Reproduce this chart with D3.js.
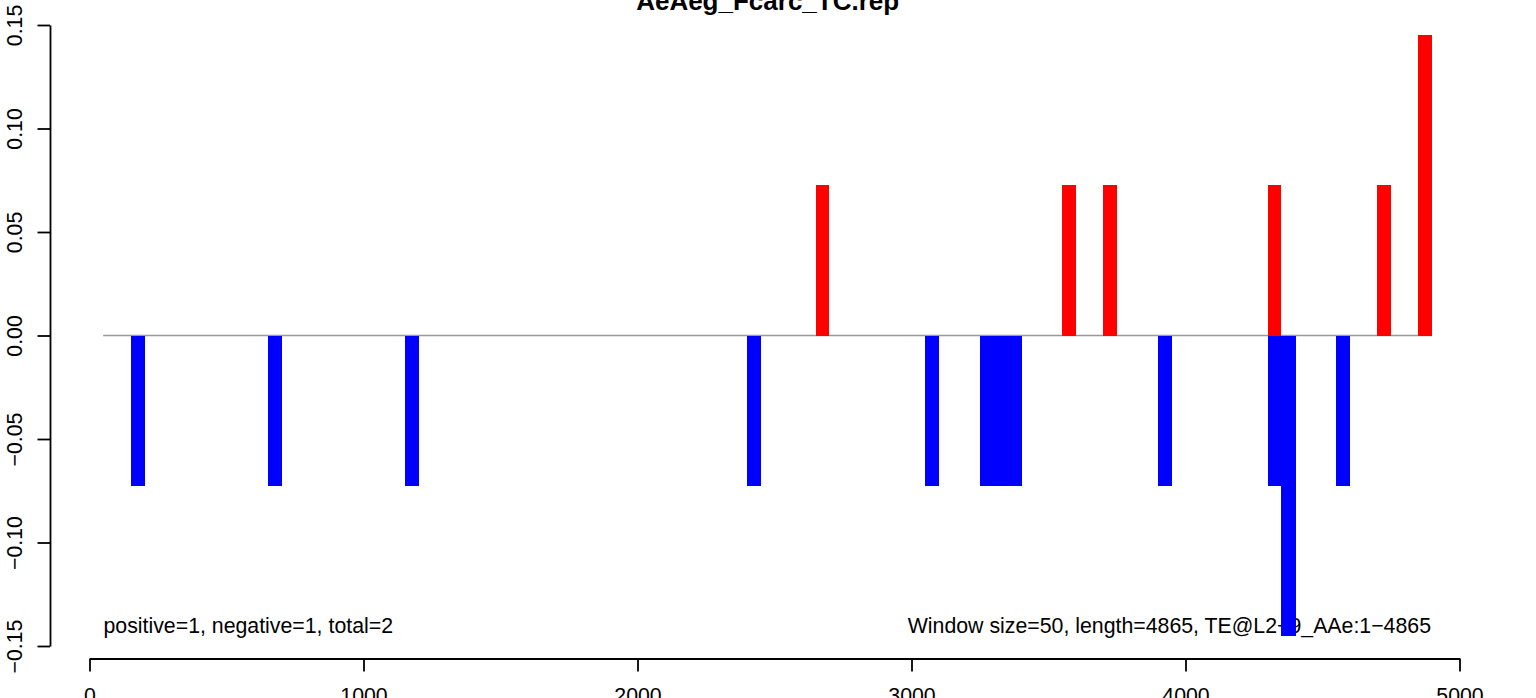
<!DOCTYPE html>
<html>
<head>
<meta charset="utf-8">
<script src="https://cdn.jsdelivr.net/npm/d3@7"></script>
<style>
  html, body { margin: 0; padding: 0; background: #fff; overflow: hidden; }
  svg { display: block; font-family: "Liberation Sans", Arial, Helvetica, sans-serif; }
</style>
</head>
<body>
<svg id="chart" width="1536" height="698"></svg>
<script>
// ---- data ----
const titleText = "AeAeg_Fcarc_TC.rep";
const windowSize = 50;
const posStarts = [2650, 3550, 3700, 4300, 4700, 4850];
const posValues = [0.0725, 0.0725, 0.0725, 0.0725, 0.0725, 0.145];
const negStarts = [150, 650, 1150, 2400, 3050, 3250, 3300, 3350, 3900, 4300, 4350, 4550];
const negValues = [-0.0725, -0.0725, -0.0725, -0.0725, -0.0725, -0.0725, -0.0725, -0.0725, -0.0725, -0.0725, -0.145, -0.0725];
const xTicks = [0, 1000, 2000, 3000, 4000, 5000];
const yTicks = [-0.15, -0.10, -0.05, 0.00, 0.05, 0.10, 0.15];
const baselineRange = [50, 4900];
const leftNote = "positive=1, negative=1, total=2";
const rightNote = "Window size=50, length=4865, TE@L2\u22129_AAe:1\u22124865";

// ---- drawing ----
const svg = d3.select("#chart");
const x = d3.scaleLinear().domain([0, 5000]).range([89.5, 1459.5]);
const y = d3.scaleLinear().domain([-0.15, 0.15]).range([646, 25]);
const fs = 21.3;

// title
svg.append("text")
  .attr("x", x((baselineRange[0] + baselineRange[1]) / 2))
  .attr("y", 10)
  .attr("text-anchor", "middle")
  .attr("font-weight", "bold")
  .attr("font-size", 26)
  .text(titleText);

// zero baseline
svg.append("line")
  .attr("x1", x(baselineRange[0])).attr("x2", x(baselineRange[1]))
  .attr("y1", y(0)).attr("y2", y(0))
  .attr("stroke", "#999").attr("stroke-width", 1.4);

// annotations
svg.append("text")
  .attr("x", 103.5).attr("y", 633)
  .attr("font-size", fs)
  .text(leftNote);
svg.append("text")
  .attr("x", 1431).attr("y", 633)
  .attr("text-anchor", "end")
  .attr("font-size", fs)
  .text(rightNote);

// bars
const posData = posStarts.map((s, i) => ({ s, v: posValues[i] }));
const negData = negStarts.map((s, i) => ({ s, v: negValues[i] }));

svg.append("g").attr("shape-rendering", "crispEdges")
  .selectAll("rect").data(posData).join("rect")
  .attr("x", d => x(d.s))
  .attr("width", d => x(d.s + windowSize) - x(d.s))
  .attr("y", d => y(d.v))
  .attr("height", d => y(0) - y(d.v))
  .attr("fill", "#FF0000");

svg.append("g").attr("shape-rendering", "crispEdges")
  .selectAll("rect").data(negData).join("rect")
  .attr("x", d => x(d.s))
  .attr("width", d => x(d.s + windowSize) - x(d.s) + 0.5)
  .attr("y", y(0))
  .attr("height", d => y(d.v) - y(0))
  .attr("fill", "#0000FF");

// x axis
const xAxis = svg.append("g")
  .attr("transform", "translate(0,658.5)")
  .call(d3.axisBottom(x).tickValues(xTicks).tickSize(13).tickSizeOuter(0).tickFormat(d3.format("d")));
xAxis.select(".domain").attr("stroke", "#000").attr("stroke-width", 1.8);
xAxis.selectAll(".tick line").attr("stroke", "#000").attr("stroke-width", 1.8);
xAxis.selectAll(".tick text")
  .attr("font-size", fs).attr("font-family", "Liberation Sans, Arial, sans-serif")
  .attr("fill", "#000").attr("y", 29).attr("dy", "0.71em");

// y axis
const yAxis = svg.append("g")
  .attr("transform", "translate(50,0)")
  .call(d3.axisLeft(y).tickValues(yTicks).tickSize(12.5).tickSizeOuter(0)
    .tickFormat(d => d3.format(".2f")(d).replace("-", "\u2212")));
yAxis.select(".domain").attr("stroke", "#000").attr("stroke-width", 1.8);
yAxis.selectAll(".tick line").attr("stroke", "#000").attr("stroke-width", 1.8);
yAxis.selectAll(".tick text")
  .attr("font-size", fs).attr("font-family", "Liberation Sans, Arial, sans-serif")
  .attr("fill", "#000")
  .attr("x", null).attr("dy", null)
  .attr("text-anchor", "middle")
  .attr("transform", "translate(-28.5,0) rotate(-90)");
</script>
</body>
</html>
